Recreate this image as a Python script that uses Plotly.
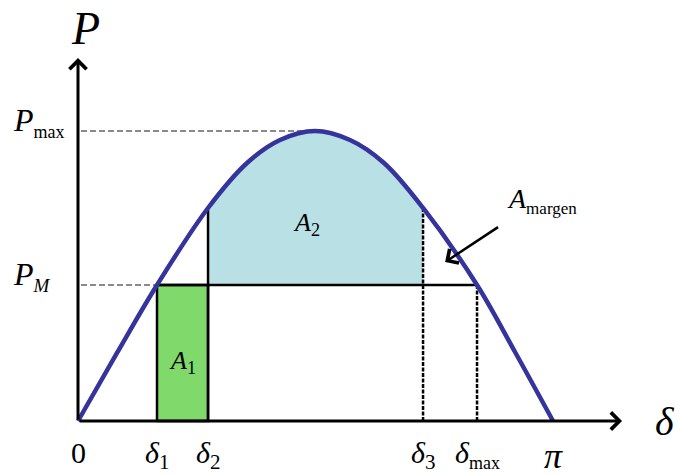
import math
import plotly.graph_objects as go

PI = math.pi

# Power-angle curve P(δ), Pmax normalised to 1
delta_curve = [0.0, 0.2579, 0.5225, 0.860, 1.1177, 1.3360, 1.5675,
               1.7990, 2.0238, 2.282, 2.639, 2.8903, PI]
p_curve = [0.0, 0.2345, 0.469, 0.7345, 0.8897, 0.969, 1.0,
           0.969, 0.8897, 0.7345, 0.469, 0.238, 0.0]

# Characteristic angles and power levels
P_MAX = 1.0
P_M = 0.469
d1, d2, d3, dmax = 0.5225, 0.860, 2.282, 2.639
p_d2, p_d3 = 0.7345, 0.7345

x_tick_vals = [0.0, d1, d2, d3, dmax, PI]
x_tick_text = ["0", "<i>δ</i><sub>1</sub>", "<i>δ</i><sub>2</sub>",
               "<i>δ</i><sub>3</sub>",
               "<i>δ</i><sub><span style='font-size:18px'>max</span></sub>",
               "<span style='font-size:36px'><i>π</i></span>"]
y_tick_vals = [P_MAX, P_M]
y_tick_text = ["<i>P</i><sub><span style='font-size:18px'>max</span></sub>",
               "<i>P</i><sub><span style='font-size:19px'><i>M</i></span></sub>"]

SERIF = "Liberation Serif"
CURVE = "#35339c"
GREEN = "#80d96b"
BLUE = "#b9e0e4"

fig = go.Figure()

# A2: between P_M and the curve, from δ2 to δ3
i2, i3 = delta_curve.index(d2), delta_curve.index(d3)
fig.add_trace(go.Scatter(x=[d2, d3], y=[P_M, P_M], mode="lines",
                         line=dict(width=0), showlegend=False, hoverinfo="skip"))
fig.add_trace(go.Scatter(x=delta_curve[i2:i3 + 1], y=p_curve[i2:i3 + 1],
                         mode="lines", line=dict(width=0, shape="spline"),
                         fill="tonexty", fillcolor=BLUE,
                         showlegend=False, hoverinfo="skip"))

# A1: rectangle under P_M from δ1 to δ2
fig.add_trace(go.Scatter(x=[d1, d1, d2, d2, d1], y=[0, P_M, P_M, 0, 0],
                         mode="lines", fill="toself", fillcolor=GREEN,
                         line=dict(color="black", width=2.5),
                         showlegend=False, hoverinfo="skip"))

def seg(xs, ys, color="black", width=2.5, dash="solid"):
    fig.add_trace(go.Scatter(x=xs, y=ys, mode="lines",
                             line=dict(color=color, width=width, dash=dash),
                             showlegend=False, hoverinfo="skip"))

# Gray guide lines to the P axis
seg([0.02, 1.49], [P_MAX, P_MAX], color="#8a8a8a", width=2, dash="6px,3px")
seg([0.02, d1], [P_M, P_M], color="#8a8a8a", width=2, dash="6px,3px")

# Mechanical power level and angle markers
seg([d1, dmax], [P_M, P_M])
seg([d2, d2], [0, p_d2])
seg([d3, d3], [0, p_d3], dash="4px,1.5px")
seg([dmax, dmax], [0, P_M], dash="4px,1.5px")

# Power-angle curve
fig.add_trace(go.Scatter(x=delta_curve, y=p_curve, mode="lines",
                         line=dict(color=CURVE, width=4.5, shape="spline"),
                         showlegend=False, hoverinfo="skip"))

ann = []
# Axes with arrowheads
ann.append(dict(x=3.598, y=0, ax=0, ay=0, xref="x", yref="y", axref="x", ayref="y",
                text="", showarrow=True, arrowhead=4, arrowsize=1.1,
                arrowwidth=3, arrowcolor="black"))
ann.append(dict(x=0, y=1.2517, ax=0, ay=0, xref="x", yref="y", axref="x", ayref="y",
                text="", showarrow=True, arrowhead=4, arrowsize=1.1,
                arrowwidth=3, arrowcolor="black"))
# A_margen pointer
ann.append(dict(x=2.428, y=0.548, ax=2.788, ay=0.672, xref="x", yref="y",
                axref="x", ayref="y", text="", showarrow=True, arrowhead=4,
                arrowsize=1.3, arrowwidth=2.5, arrowcolor="black"))

# Axis titles
ann.append(dict(x=0.05, y=1.352, xref="x", yref="y", text="<i>P</i>",
                showarrow=False, font=dict(family=SERIF, size=46, color="black")))
ann.append(dict(x=3.885, y=0, xref="x", yref="y", text="<i>δ</i>",
                showarrow=False, font=dict(family=SERIF, size=40, color="black")))

# Tick labels along δ
for xv, tx in zip(x_tick_vals, x_tick_text):
    ann.append(dict(x=xv, y=-0.045, xref="x", yref="y", text=tx, yanchor="top",
                    showarrow=False, font=dict(family=SERIF, size=30, color="black")))
# Tick labels along P
for yv, tx in zip(y_tick_vals, y_tick_text):
    ann.append(dict(x=-0.44, y=yv + 0.03, xref="x", yref="y", text=tx,
                    xanchor="left", showarrow=False,
                    font=dict(family=SERIF, size=32, color="black")))

# Area labels
ann.append(dict(x=(d1 + d2) / 2, y=0.205, xref="x", yref="y",
                text="<i>A</i><sub>1</sub>", showarrow=False,
                font=dict(family=SERIF, size=26, color="black")))
ann.append(dict(x=1.51, y=0.68, xref="x", yref="y",
                text="<i>A</i><sub>2</sub>", showarrow=False,
                font=dict(family=SERIF, size=26, color="black")))
ann.append(dict(x=2.825, y=0.76, xref="x", yref="y", xanchor="left",
                text="<i>A</i><sub><span style='font-size:17px'>margen</span></sub>",
                showarrow=False, font=dict(family=SERIF, size=28, color="black")))

fig.update_layout(
    width=679, height=475,
    margin=dict(l=0, r=0, t=0, b=0),
    paper_bgcolor="white", plot_bgcolor="white",
    xaxis=dict(range=[-0.5159, 3.9748], visible=False, fixedrange=True),
    yaxis=dict(range=[-0.1862, 1.4517], visible=False, fixedrange=True),
    annotations=ann,
    showlegend=False,
)

fig.write_html("out.html")
